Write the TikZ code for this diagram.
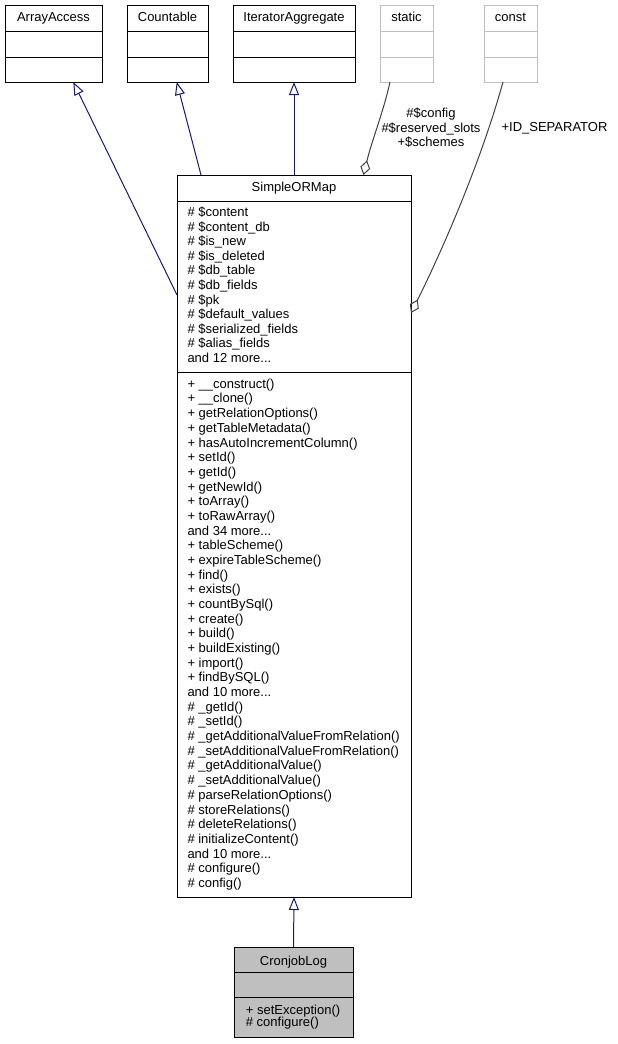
\documentclass[tikz,border=0pt]{standalone}
\usepackage{fontspec}
\setmainfont{Liberation Sans}
\usetikzlibrary{arrows.meta}
\definecolor{edgeblue}{HTML}{191970}
\definecolor{aggrgray}{HTML}{404040}
\definecolor{lightline}{HTML}{BFBFBF}
\definecolor{cjfill}{HTML}{BFBFBF}
\newcommand{\fsz}{\fontsize{13}{15}\selectfont}
\newcommand{\tdots}{...}
\begin{document}
\begin{tikzpicture}[x=1pt,y=-1pt,
  classbox/.style={draw=black, line width=1pt, rectangle, inner sep=0pt, outer sep=0pt, anchor=north west},
  ghostbox/.style={classbox, draw=lightline},
  divider/.style={line width=1pt},
  txt/.style={inner sep=0pt, anchor=base west, font=\fsz},
  ttl/.style={inner sep=0pt, anchor=base, font=\fsz},
  inh/.style={draw=edgeblue, line width=1pt, -{Triangle[open, length=13pt, width=10pt]}},
  aggr/.style={draw=aggrgray, line width=1pt, {Diamond[open, length=15pt, width=10pt]}-}
]
\useasboundingbox (0,0) rectangle (618,1044);

% ---- top interface boxes ----
\node[classbox, minimum width=97pt, minimum height=77pt] (aa) at (5,5) {};
\draw[divider] ([yshift=-26pt]aa.north west) -- ([yshift=-26pt]aa.north east);
\draw[divider] ([yshift=-52pt]aa.north west) -- ([yshift=-52pt]aa.north east);
\node[ttl] (aat) at (53.5,21.7) {ArrayAccess};

\node[classbox, minimum width=81pt, minimum height=77pt] (ct) at (127,5) {};
\draw[divider] ([yshift=-26pt]ct.north west) -- ([yshift=-26pt]ct.north east);
\draw[divider] ([yshift=-52pt]ct.north west) -- ([yshift=-52pt]ct.north east);
\node[ttl] (ctt) at (167.5,21.7) {Countable};

\node[classbox, minimum width=122pt, minimum height=77pt] (ia) at (233,5) {};
\draw[divider] ([yshift=-26pt]ia.north west) -- ([yshift=-26pt]ia.north east);
\draw[divider] ([yshift=-52pt]ia.north west) -- ([yshift=-52pt]ia.north east);
\node[ttl] (iat) at (294,21.7) {IteratorAggregate};

\node[ghostbox, minimum width=53pt, minimum height=77pt] (st) at (380,5) {};
\draw[divider, lightline] ([yshift=-26pt]st.north west) -- ([yshift=-26pt]st.north east);
\draw[divider, lightline] ([yshift=-52pt]st.north west) -- ([yshift=-52pt]st.north east);
\node[ttl] (stt) at (406.5,21.7) {static};

\node[ghostbox, minimum width=53pt, minimum height=77pt] (cs) at (484,5) {};
\draw[divider, lightline] ([yshift=-26pt]cs.north west) -- ([yshift=-26pt]cs.north east);
\draw[divider, lightline] ([yshift=-52pt]cs.north west) -- ([yshift=-52pt]cs.north east);
\node[ttl] (cst) at (510.5,21.7) {const};

% ---- SimpleORMap ----
\node[classbox, minimum width=234pt, minimum height=722pt] (som) at (177,175) {};
\draw[divider] ([yshift=-26pt]som.north west) -- ([yshift=-26pt]som.north east);
\draw[divider] ([yshift=-197.5pt]som.north west) -- ([yshift=-197.5pt]som.north east);
\node[ttl] (somt) at (294,191.7) {SimpleORMap};
\foreach \t [count=\i from 0] in {
  \# \$content, \# \$content\_db, \# \$is\_new, \# \$is\_deleted, \# \$db\_table,
  \# \$db\_fields, \# \$pk, \# \$default\_values, \# \$serialized\_fields,
  \# \$alias\_fields, and 12 more\tdots}
  \node[txt] (soma\i) at (187.3,{216.7+14.55*\i}) {\t};
\foreach \t [count=\i from 0] in {
  + \_\_construct(), + \_\_clone(), + getRelationOptions(), + getTableMetadata(),
  + hasAutoIncrementColumn(), + setId(), + getId(), + getNewId(), + toArray(),
  + toRawArray(), and 34 more\tdots, + tableScheme(), + expireTableScheme(),
  + find(), + exists(), + countBySql(), + create(), + build(), + buildExisting(),
  + import(), + findBySQL(), and 10 more\tdots, \# \_getId(), \# \_setId(),
  \# \_getAdditionalValueFromRelation(), \# \_setAdditionalValueFromRelation(),
  \# \_getAdditionalValue(), \# \_setAdditionalValue(), \# parseRelationOptions(),
  \# storeRelations(), \# deleteRelations(), \# initializeContent(),
  and 10 more\tdots, \# configure(), \# config()}
  \node[txt] (somm\i) at (187.3,{388.3+14.68*\i}) {\t};

% ---- CronjobLog ----
\node[classbox, fill=cjfill, minimum width=119pt, minimum height=90pt] (cj) at (234,947) {};
\draw[divider] ([yshift=-25.5pt]cj.north west) -- ([yshift=-25.5pt]cj.north east);
\draw[divider] ([yshift=-50.5pt]cj.north west) -- ([yshift=-50.5pt]cj.north east);
\node[ttl] (cjt) at (293.5,965) {CronjobLog};
\node[txt] (cjm0) at (245.7,1014) {+ setException()};
\node[txt] (cjm1) at (245.7,1026.7) {\# configure()};

% ---- connector end points ----
\coordinate (aa-in) at ([xshift=68.3pt]aa.south west);
\coordinate (ct-in) at ([xshift=49.7pt]ct.south west);
\coordinate (st-out) at ([xshift=10pt]st.south west);
\coordinate (cs-out) at ([xshift=19pt]cs.south west);
\coordinate (som-aa) at ([yshift=-120pt]som.north west);
\coordinate (som-ct) at ([xshift=24pt]som.north west);
\coordinate (som-st) at ([xshift=186.5pt]som.north west);
\coordinate (som-cs) at ([yshift=-138pt]som.north east);

% ---- inheritance ----
\draw[inh] (som-aa) -- (aa-in);
\draw[inh] (som-ct) -- (ct-in);
\draw[inh] (som.north) -- (ia.south);
\draw[inh] (cj.north) -- (som.south);

% ---- aggregation ----
\draw[aggr] (som-st) .. controls (372,140) and (384,110) .. (st-out);
\draw[aggr] (som-cs) .. controls (440,255) and (480,165) .. (cs-out);

% ---- edge labels ----
\node[ttl] (lb1) at (431,117.3) {\#\$config};
\node[ttl] (lb2) at (431,132.3) {\#\$reserved\_slots};
\node[ttl] (lb3) at (431,146.7) {+\$schemes};
\node[ttl] (lb4) at (554.5,131) {+ID\_SEPARATOR};
\end{tikzpicture}
\end{document}
